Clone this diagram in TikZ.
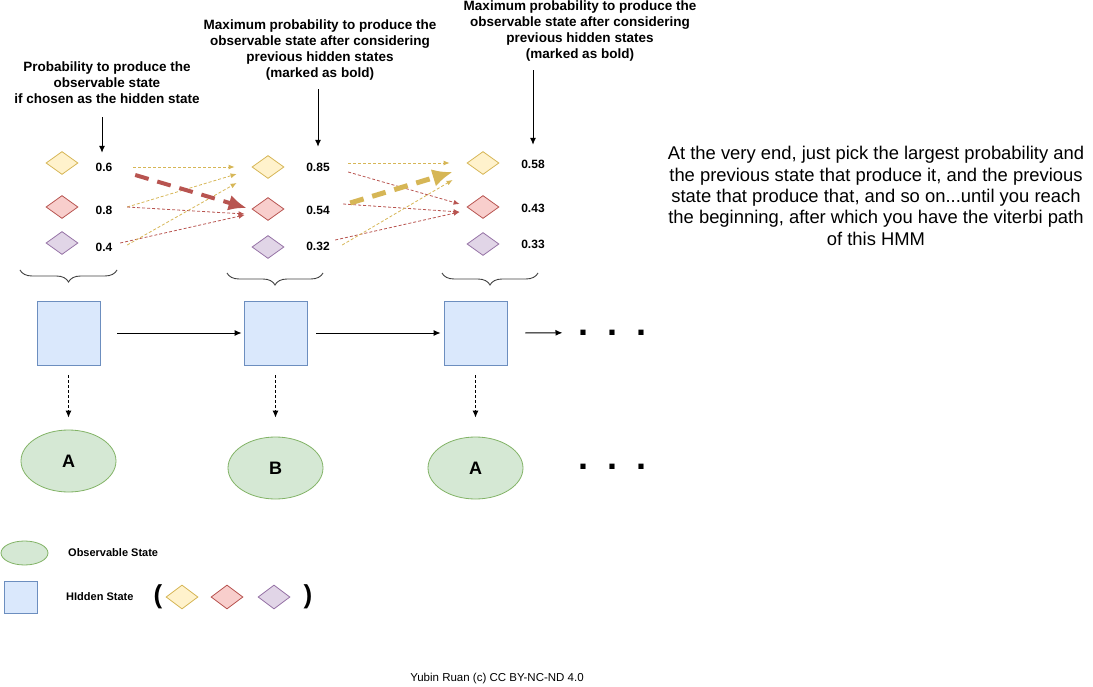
\documentclass[tikz,border=0pt]{standalone}
\usepackage{fontspec}
\setmainfont{Liberation Sans}
\usetikzlibrary{shapes,arrows.meta,positioning,decorations.pathreplacing}
\definecolor{yelfill}{HTML}{FFF2CC}
\definecolor{yeldraw}{HTML}{D6B656}
\definecolor{redfill}{HTML}{F8CECC}
\definecolor{reddraw}{HTML}{B85450}
\definecolor{purfill}{HTML}{E1D5E7}
\definecolor{purdraw}{HTML}{9673A6}
\definecolor{bluefill}{HTML}{DAE8FC}
\definecolor{bluedraw}{HTML}{6C8EBF}
\definecolor{greenfill}{HTML}{D5E8D4}
\definecolor{greendraw}{HTML}{82B366}

\begin{document}
\begin{tikzpicture}[x=1pt, y=-1pt, every node/.style={inner sep=0pt},
    gem/.style={diamond, draw, line width=0.8pt, minimum width=32pt, minimum height=23pt},
    yelgem/.style={gem, fill=yelfill, draw=yeldraw},
    redgem/.style={gem, fill=redfill, draw=reddraw},
    purgem/.style={gem, fill=purfill, draw=purdraw},
    prob/.style={font=\fontsize{12}{14}\selectfont\bfseries, minimum width=58pt, minimum height=14pt},
    note/.style={align=center, font=\fontsize{13.5}{16}\selectfont\bfseries},
    hid/.style={draw=bluedraw, fill=bluefill, line width=0.8pt, minimum width=63pt, minimum height=64pt},
    obs/.style={ellipse, draw=greendraw, fill=greenfill, line width=0.8pt, minimum width=95pt, minimum height=62pt, font=\fontsize{18}{20}\selectfont\bfseries},
    key/.style={anchor=west, font=\fontsize{11}{13}\selectfont\bfseries},
    paren/.style={font=\fontsize{26}{28}\selectfont\bfseries},
    more/.style={anchor=base west, font=\fontsize{36}{36}\selectfont\bfseries},
    weakY/.style={color=yeldraw, line width=0.8pt, dash pattern=on 3pt off 2pt, -{Latex[length=6pt,width=5pt]}},
    weakR/.style={color=reddraw, line width=0.8pt, dash pattern=on 3pt off 2pt, -{Latex[length=6pt,width=5pt]}},
    boldR/.style={color=reddraw, line width=4pt, dash pattern=on 14pt off 9pt, -{Latex[length=18pt,width=16pt]}},
    boldY/.style={color=yeldraw, line width=5pt, dash pattern=on 14pt off 9pt, -{Latex[length=20pt,width=18pt]}},
    pointer/.style={line width=1pt, -{Latex[length=7pt,width=6pt]}},
    chain/.style={line width=1pt, -{Latex[length=7pt,width=6pt]}},
    emit/.style={chain, dash pattern=on 3pt off 2pt},
    grp/.style={decorate, decoration={brace, amplitude=12pt, mirror}, draw=black!75, line width=0.9pt}]
    \useasboundingbox (0,0) rectangle (1093,687);

    % notes on top
    \node[note] (t1) at (107,83) {Probability to produce the\\observable state\\if chosen as the hidden state};
    \node[note] (t2) at (320,50) {Maximum probability to produce the\\observable state after considering\\previous hidden states\\(marked as bold)};
    \node[note] (t3) at (580,31) {Maximum probability to produce the\\observable state after considering\\previous hidden states\\(marked as bold)};

    % candidate hidden states
    \node[yelgem] (Y1) at (62,163) {};
    \node[redgem] (R1) at (62,207) {};
    \node[purgem] (P1) at (62,243) {};
    \node[yelgem] (Y2) at (268,167) {};
    \node[redgem] (R2) at (268,209) {};
    \node[purgem] (P2) at (268,247) {};
    \node[yelgem] (Y3) at (483,163) {};
    \node[redgem] (R3) at (483,207) {};
    \node[purgem] (P3) at (483,244) {};

    \node[prob] (vY1) at (104,167) {0.6};
    \node[prob] (vR1) at (104,210) {0.8};
    \node[prob] (vP1) at (104,247) {0.4};
    \node[prob] (vY2) at (318,167) {0.85};
    \node[prob] (vR2) at (318,210) {0.54};
    \node[prob] (vP2) at (318,246) {0.32};
    \node[prob] (vY3) at (533,164) {0.58};
    \node[prob] (vR3) at (533,208) {0.43};
    \node[prob] (vP3) at (533,244) {0.33};

    \draw[pointer] ([shift={(-5,13)}]t1.south) -- ([shift={(-2,-7)}]vY1.north);
    \draw[pointer] ([shift={(-2,9)}]t2.south) -- ([shift={(0,-13)}]vY2.north);
    \draw[pointer] (t3.south -| vY3.north) ++(0,9) -- ([shift={(0,-12)}]vY3.north);

    % first step
    \draw[weakY] (vY1.east) -- ([shift={(-17,0)}]Y2.west);
    \draw[weakY] ([shift={(-6,-3)}]vR1.east) -- ([shift={(-15,7)}]Y2.west);
    \draw[weakR] ([shift={(-6,-3)}]vR1.east) -- ([shift={(-7,5)}]R2.west);
    \draw[weakR] ([shift={(-13,-4)}]vP1.east) -- ([shift={(-7,6)}]R2.west);
    \draw[weakY] ([shift={(-6,-2)}]vP1.east) -- ([shift={(-15,16)}]Y2.west);
    \draw[boldR] ([shift={(2,8)}]vY1.east) -- ([shift={(-5,-1)}]R2.west);

    % second step
    \draw[weakY] ([shift={(1,-4)}]vY2.east) -- ([shift={(-17,0)}]Y3.west);
    \draw[weakR] ([shift={(1,5)}]vY2.east) -- ([shift={(-7,-3)}]R3.west);
    \draw[weakR] ([shift={(-4,-6)}]vR2.east) -- ([shift={(-7,5)}]R3.west);
    \draw[weakR] ([shift={(-12,-6)}]vP2.east) -- ([shift={(-7,5)}]R3.west);
    \draw[weakY] ([shift={(-5,-1)}]vP2.east) -- ([shift={(-14,17)}]Y3.west);
    \draw[boldY] ([shift={(3,-7)}]vR2.east) -- ([shift={(-14,9)}]Y3.west);

    \draw[grp] (20,270) -- (117,270);
    \draw[grp] (227,273) -- (323,273);
    \draw[grp] (442,273) -- (538,273);

    % hidden chain
    \node[hid] (H1) at (68.5,333) {};
    \node[hid] (H2) at (275.5,333) {};
    \node[hid] (H3) at (475.5,333) {};
    \node[more] (dots1) at (578.5,335.5) {.\hspace{19pt}.\hspace{19pt}.};
    \draw[chain] ([xshift=17pt]H1.east) -- ([xshift=-2pt]H2.west);
    \draw[chain] ([xshift=9pt]H2.east) -- ([xshift=-3pt]H3.west);
    \draw[chain] ([xshift=18pt]H3.east) -- ([xshift=-16pt]dots1.west);

    % observations
    \node[obs] (O1) at (68.5,461) {A};
    \node[obs] (O2) at (275.5,468) {B};
    \node[obs] (O3) at (475.5,468) {A};
    \node[more] (dots2) at (578.5,469.5) {.\hspace{19pt}.\hspace{19pt}.};
    \draw[emit] ([shift={(0,10)}]H1.south) -- ([shift={(0,-12)}]O1.north);
    \draw[emit] ([shift={(0,10)}]H2.south) -- ([shift={(0,-19)}]O2.north);
    \draw[emit] ([shift={(0,10)}]H3.south) -- ([shift={(0,-19)}]O3.north);

    \node[align=center, font=\fontsize{18.4}{21.4}\selectfont] (tip) at (876,196) {At the very end, just pick the largest probability and\\the previous state that produce it, and the previous\\state that produce that, and so on...until you reach\\the beginning, after which you have the viterbi path\\of this HMM};

    % legend
    \node[obs, minimum width=47pt, minimum height=24pt] (keyO) at (24.5,553) {};
    \node[key] (keyOt) at (68,553) {Observable State};
    \node[hid, minimum width=33pt, minimum height=32pt] (keyH) at (20.5,597) {};
    \node[key] (keyHt) at (66,597) {HIdden State};
    \node[paren] (lp) at (158,597) {(};
    \node[yelgem, minimum height=24pt] (kY) at (182,597) {};
    \node[redgem, minimum height=24pt] (kR) at (227,597) {};
    \node[purgem, minimum height=24pt] (kP) at (274,597) {};
    \node[paren] (rp) at (308,597) {)};

    \node[font=\fontsize{11.5}{13}\selectfont] (credit) at (497,679) {Yubin Ruan (c) CC BY-NC-ND 4.0};
\end{tikzpicture}
\end{document}
